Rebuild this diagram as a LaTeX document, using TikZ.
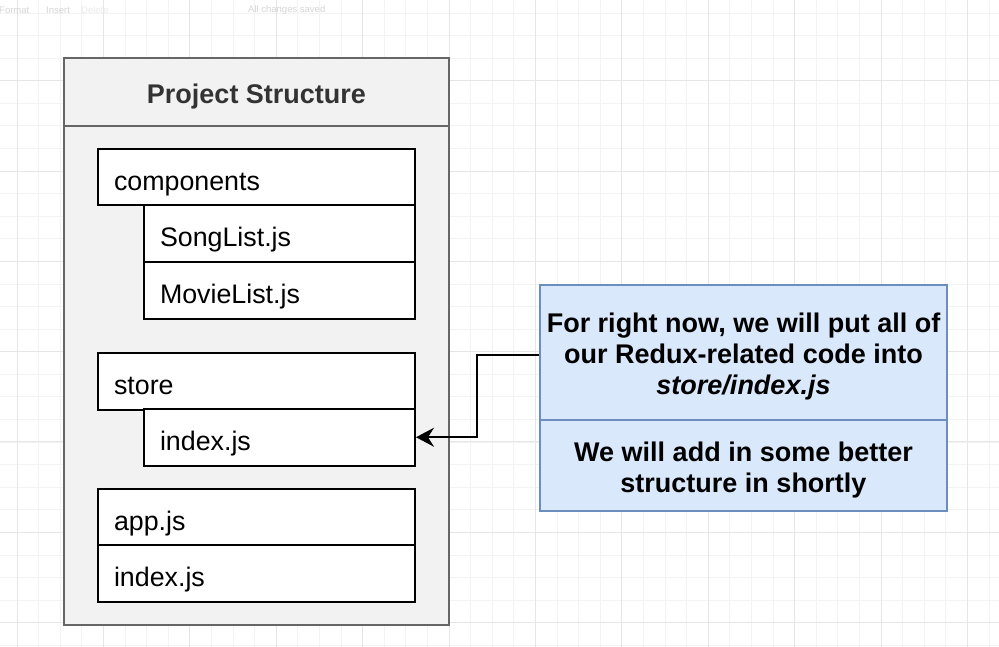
\documentclass[tikz,border=0pt]{standalone}
\usepackage{fontspec}
\setmainfont{Liberation Sans}
\usetikzlibrary{arrows.meta}
\definecolor{gridminor}{HTML}{F3F3F3}
\definecolor{gridmajor}{HTML}{E6E6E6}
\definecolor{contfill}{HTML}{F2F2F2}
\definecolor{contline}{HTML}{666666}
\definecolor{titletext}{HTML}{333333}
\definecolor{notefill}{HTML}{DAE8FC}
\definecolor{noteline}{HTML}{6C8EBF}
\definecolor{toolbar}{HTML}{D6D6D6}
\tikzset{
  cont/.style={draw=contline, fill=contfill, line width=2pt, inner sep=0pt, anchor=north west},
  leaf/.style={draw=black, fill=white, line width=2pt, anchor=north west, inner xsep=16pt, inner ysep=0pt,
     align=left, font=\fontsize{26.8}{31}\selectfont, minimum height=56.5pt,
     text height=26pt, text depth=0pt},
  note/.style={draw=noteline, fill=notefill, line width=2pt, anchor=north west, inner sep=0pt,
     minimum width=407pt, align=center, font=\fontsize{27}{31}\selectfont\bfseries},
  tb/.style={text=toolbar, font=\fontsize{9.5}{11}\selectfont, anchor=west, inner sep=0pt},
  conn/.style={draw=black, line width=2pt, -{Stealth[length=18pt,width=19pt,inset=6pt]}}
}
\begin{document}
\begin{tikzpicture}[x=1pt,y=-1pt]
\useasboundingbox (0,0) rectangle (999,647);
\fill[white] (0,0) rectangle (999,647);
% grid
\foreach \i in {0,...,47} {\draw[gridminor, line width=0.8pt] ({17+21.6*(\i-1)},0) -- ({17+21.6*(\i-1)},647);}
\foreach \i in {0,...,30} {\draw[gridminor, line width=0.8pt] (0,{-9.6+22.58*\i}) -- (999,{-9.6+22.58*\i});}
\foreach \i in {0,...,11} {\draw[gridmajor, line width=0.9pt] ({17+86.4*\i},0) -- ({17+86.4*\i},647);}
\foreach \i in {0,...,7} {\draw[gridmajor, line width=0.9pt] (0,{-9.6+90.3*\i}) -- (999,{-9.6+90.3*\i});}
% faint toolbar
\node[tb] (tbformat) at (-1,10) {Format};
\node[tb] (tbinsert) at (46,10) {Insert};
\node[tb, text=toolbar!50] (tbdelete) at (81,10) {Delete};
\node[tb] (tbsaved) at (248,10) {All changes saved};
% container
\node[cont, minimum width=385pt, minimum height=499pt] (body) at (63,125) {};
\node[cont, minimum width=385pt, minimum height=68pt, text=titletext, text height=24pt, text depth=0pt,
      font=\fontsize{27}{31}\selectfont\bfseries] (title) at (63,57) {Project Structure};
% leaves
\node[leaf, text width=285pt] (components) at (97,148) {components};
\node[leaf, text width=239pt] (songlist) at (143,204.5) {SongList.js};
\node[leaf, text width=239pt] (movielist) at (143,261) {MovieList.js};
\node[leaf, text width=285pt] (store) at (97,352) {store};
\node[leaf, text width=239pt] (storeindex) at (143,408) {index.js};
\node[leaf, text width=285pt] (appjs) at (97,488) {app.js};
\node[leaf, text width=285pt] (rootindex) at (97,544) {index.js};
% notes
\node[note, minimum height=135pt] (note1) at (539,284)
  {\rule{0pt}{27pt}For right now, we will put all of\\our Redux-related code into\\\textit{store/index.js}};
\node[note, minimum height=91pt] (note2) at (539,419)
  {\rule{0pt}{28pt}We will add in some better\\structure in shortly};
% connector
\draw[conn] ([yshift=-2.5pt]note1.west) -- ++(-62,0) |- (storeindex.east);
\end{tikzpicture}
\end{document}
